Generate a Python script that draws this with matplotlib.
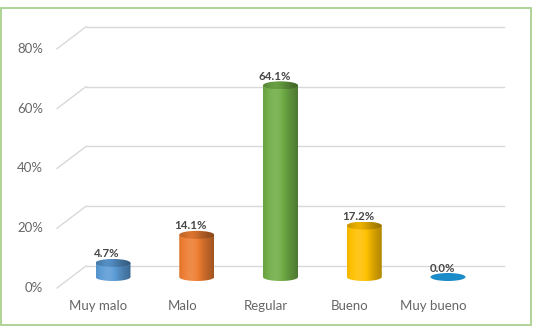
import numpy as np
import matplotlib
matplotlib.use("Agg")
import matplotlib.pyplot as plt
from matplotlib.patches import Polygon, Ellipse, Rectangle
from matplotlib.colors import to_rgb

# ---- data ----
categories = ["Muy malo", "Malo", "Regular", "Bueno", "Muy bueno"]
values = [4.7, 14.1, 64.1, 17.2, 0.0]
colors = ["#5B9BD5", "#ED7D31", "#70AD47", "#FFC000", "#1A8CC8"]
yticks = [0, 20, 40, 60, 80]

W, H = 535, 329
fig = plt.figure(figsize=(W / 100, H / 100), dpi=100)
fig.patch.set_facecolor("white")
ax = fig.add_axes([0, 0, 1, 1])
ax.set_axis_off()

# pixel mapping helpers (layout only)
x0px, dxpx = 113.0, 83.75
y0px, dypx = 277.0, 2.99
xlim = (-x0px / dxpx, (W - x0px) / dxpx)
ylim = ((y0px - H) / dypx, y0px / dypx)

depth_x = 14.5 / dxpx
depth_y = 11.0 / dypx
half_w = 17.5 / dxpx
ell_ry = 4.0 / dypx

grid_col = "#D9D9D9"
text_col = "#676767"
back_left = (86 - x0px) / dxpx
back_right = (504 - x0px) / dxpx

# back wall gridlines + floor diagonals
for t in yticks:
    yb = t + depth_y
    ax.plot([back_left, back_right], [yb, yb], color=grid_col, lw=1.0, zorder=1)
    ax.plot([back_left, back_left - 2 * depth_x], [yb, t - depth_y],
            color=grid_col, lw=1.0, zorder=1)
    ax.text((43 - x0px) / dxpx, t - depth_y, f"{t}%", ha="right", va="center",
            fontsize=9.5, color=text_col, family="Lato")


def shade(c, f):
    c = np.array(to_rgb(c))
    if f >= 1:
        return c + (1 - c) * (f - 1)
    return c * f


def grad_img(c, n=64, top=False):
    t = np.linspace(0, 1, n)
    # brightness profile across the cylinder
    prof = 0.88 + 0.24 * np.exp(-((t - 0.35) / 0.3) ** 2) - 0.2 * t ** 3
    if top:
        prof = prof * 0.9
    img = np.array([shade(c, f) for f in prof])
    return np.clip(img[None, :, :], 0, 1)


for i, (cat, v, c) in enumerate(zip(categories, values, colors)):
    x = i
    th = np.linspace(np.pi, 2 * np.pi, 60)
    bottom = np.column_stack([x + half_w * np.cos(th), ell_ry * np.sin(th)])
    body = np.vstack([[[x - half_w, v]], bottom, [[x + half_w, v]]])
    if v > 0:
        poly = Polygon(body, closed=True, facecolor="none", edgecolor="none", zorder=3)
        ax.add_patch(poly)
        im = ax.imshow(grad_img(c), extent=[x - half_w, x + half_w, -ell_ry, v],
                       aspect="auto", zorder=3, interpolation="bilinear")
        im.set_clip_path(poly)
        top = Ellipse((x, v), 2 * half_w, 2 * ell_ry, zorder=4)
        ax.add_patch(top)
        top.set_facecolor("none")
        imt = ax.imshow(grad_img(shade(c, 0.92), top=True),
                        extent=[x - half_w, x + half_w, v - ell_ry, v + ell_ry],
                        aspect="auto", zorder=4, interpolation="bilinear")
        imt.set_clip_path(top)
    else:
        e = Ellipse((x, v), 2 * half_w, 2 * ell_ry, facecolor=c, edgecolor="none", zorder=4)
        ax.add_patch(e)
    ax.text(x - 6 / dxpx, v + 9 / dypx, f"{v:.1f}%", ha="center", va="center",
            fontsize=8.3, fontweight="bold", color="#474747", family="Lato", zorder=5)
    ax.text(x - depth_x, (y0px - 305.7) / dypx, cat, ha="center", va="center",
            fontsize=9.5, color=text_col, family="Lato")

ax.set_xlim(*xlim)
ax.set_ylim(*ylim)
ax.set_aspect("auto")

# chart border
fig.patches.append(Rectangle((1.5 / W, 1 - 325 / H), (531 - 1.5) / W, (325 - 7.5) / H,
                             transform=fig.transFigure, fill=False,
                             edgecolor="#A9D18E", lw=1.3))

fig.savefig("out.png", dpi=100)
